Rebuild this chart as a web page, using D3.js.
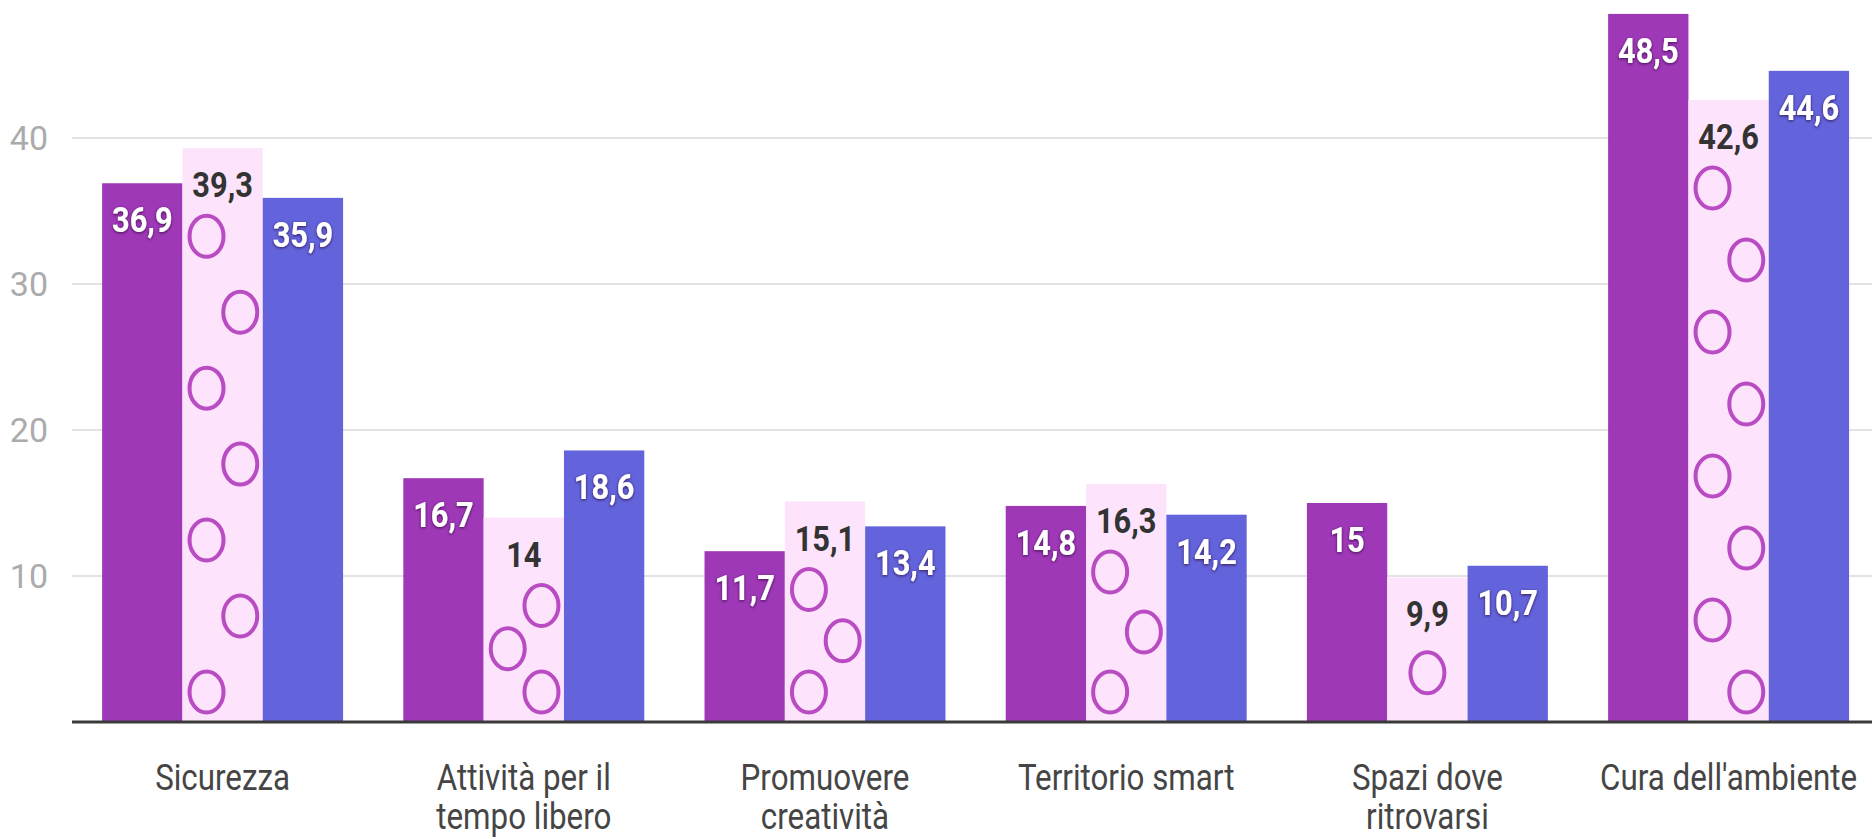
<!DOCTYPE html>
<html>
<head>
<meta charset="utf-8">
<script src="https://cdn.jsdelivr.net/npm/d3@7"></script>
<style>
  html, body { margin: 0; padding: 0; background: #ffffff; }
  svg { display: block; }
</style>
</head>
<body>
<svg id="chart" width="1872" height="839"></svg>
<script>
// ---- data ----
const categories = ["Sicurezza", "Attività per il\ntempo libero", "Promuovere\ncreatività", "Territorio smart", "Spazi dove\nritrovarsi", "Cura dell'ambiente"];
const seriesNames = ["A", "B", "C"];
const seriesA = [36.9, 16.7, 11.7, 14.8, 15, 48.5];
const seriesB = [39.3, 14, 15.1, 16.3, 9.9, 42.6];
const seriesC = [35.9, 18.6, 13.4, 14.2, 10.7, 44.6];
const yTicks = [10, 20, 30, 40];
// decorative circle pattern of the middle series (count and first side per bar)
const patternCount = [7, 3, 3, 3, 1, 8];
const patternStart = ["L", "R", "L", "L", "C", "L"];

const colors = ["#9f38b7", "#fde4fc", "#6363dc"];
const labelColors = ["#ffffff", "#333333", "#ffffff"];

const svg = d3.select("#chart");
const W = 1872;
const baseY = 722;

const x0 = d3.scaleBand().domain(categories).range([72, 72 + 6 * 301.2]).paddingInner(0.2).paddingOuter(0.1);
const x1 = d3.scaleBand().domain(seriesNames).range([0, x0.bandwidth()]).padding(0);
const y = d3.scaleLinear().domain([0, 50]).range([baseY, -8]);

const defs = svg.append("defs");
const f = defs.append("filter").attr("id", "shadow").attr("x", "-20%").attr("y", "-30%").attr("width", "140%").attr("height", "160%");
f.append("feDropShadow").attr("dx", 0).attr("dy", 1).attr("stdDeviation", 1.6).attr("flood-color", "#2a0a3a").attr("flood-opacity", 0.85);

// gridlines
svg.append("g").selectAll("line").data(yTicks).join("line")
  .attr("x1", 72).attr("x2", W)
  .attr("y1", d => y(d)).attr("y2", d => y(d))
  .attr("stroke", "#e3e3e3").attr("stroke-width", 2);

// y labels
svg.append("g").selectAll("text").data(yTicks).join("text")
  .attr("x", 48).attr("y", d => y(d))
  .attr("dy", "0.36em")
  .attr("text-anchor", "end")
  .attr("font-family", "Roboto, sans-serif")
  .attr("font-size", 34)
  .attr("fill", "#ababab")
  .text(d => d);

const rows = categories.map((c, i) => ({
  cat: c, i,
  vals: [seriesA[i], seriesB[i], seriesC[i]]
}));

const groups = svg.append("g").selectAll("g").data(rows).join("g")
  .attr("transform", d => `translate(${x0(d.cat)},0)`);

// bars
groups.selectAll("rect").data(d => d.vals.map((v, k) => ({ v, k, s: seriesNames[k] }))).join("rect")
  .attr("x", d => x1(d.s))
  .attr("y", d => y(d.v))
  .attr("width", x1.bandwidth())
  .attr("height", d => baseY - y(d.v))
  .attr("fill", d => colors[d.k]);

// circle pattern on middle bar
groups.each(function(d) {
  const g = d3.select(this);
  const n = patternCount[d.i];
  const top = y(seriesB[d.i]) + 88;
  const bottom = baseY - 30;
  const bx = x1("B"), bw = x1.bandwidth();
  const pts = [];
  for (let j = 0; j < n; j++) {
    const cy = n === 1 ? (top + bottom) / 2 - 6 : top + (bottom - top) * j / (n - 1);
    let side = patternStart[d.i];
    if (side !== "C" && j % 2 === 1) side = side === "L" ? "R" : "L";
    const cx = side === "C" ? bx + bw / 2 : (side === "L" ? bx + bw * 0.3 : bx + bw * 0.72);
    pts.push({ cx, cy });
  }
  g.selectAll("ellipse").data(pts).join("ellipse")
    .attr("cx", p => p.cx).attr("cy", p => p.cy)
    .attr("rx", 17).attr("ry", 20.5)
    .attr("fill", "none").attr("stroke", "#b94cc3").attr("stroke-width", 4);
});

// value labels
groups.selectAll("text.val").data(d => d.vals.map((v, k) => ({ v, k, s: seriesNames[k] }))).join("text")
  .attr("class", "val")
  .attr("transform", d => `translate(${x1(d.s) + x1.bandwidth() / 2},${y(d.v) + 49}) scale(0.88,1)`)
  .attr("text-anchor", "middle")
  .attr("font-family", "Roboto, sans-serif")
  .attr("font-weight", "bold")
  .attr("font-size", 35)
  .attr("fill", d => labelColors[d.k])
  .attr("filter", d => d.k === 1 ? null : "url(#shadow)")
  .text(d => String(d.v).replace(".", ","));

// x axis baseline
svg.append("line").attr("x1", 72).attr("x2", W).attr("y1", baseY).attr("y2", baseY)
  .attr("stroke", "#3a3a3a").attr("stroke-width", 3);

// x labels
const xl = svg.append("g").selectAll("g").data(categories).join("g")
  .attr("transform", d => `translate(${x0(d) + x0.bandwidth() / 2},0)`);
xl.each(function(d) {
  const lines = d.split("\n");
  d3.select(this).selectAll("text").data(lines).join("text")
    .attr("transform", (t, j) => `translate(0,${790 + j * 39}) scale(0.87,1)`)
    .attr("text-anchor", "middle")
    .attr("font-family", "Roboto, sans-serif")
    .attr("font-size", 36)
    .attr("fill", "#454545")
    .text(t => t);
});
</script>
</body>
</html>
